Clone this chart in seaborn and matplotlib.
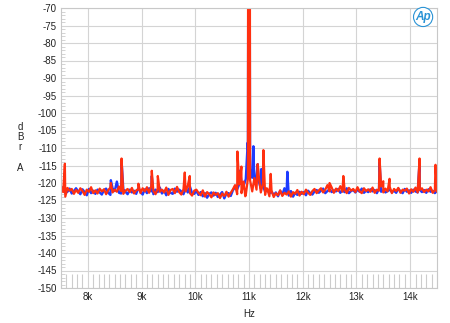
import numpy as np
import pandas as pd
import matplotlib
matplotlib.use("Agg")
import matplotlib.pyplot as plt
from matplotlib.ticker import MultipleLocator
import seaborn as sns

# ---------------- data ----------------
freq_start, freq_stop, freq_step = 7500, 14500, 40
grid_freqs = np.arange(freq_start, freq_stop + 1, freq_step)

red_floor = [
    -121.0, -122.6, -123.9, -121.4, -122.2, -121.7, -123.1, -122.0,
    -122.8, -121.5, -122.3, -123.4, -121.9, -122.5, -121.2, -122.9,
    -122.1, -123.0, -121.6, -122.4, -121.8, -123.2, -122.0, -121.3,
    -122.7, -121.9, -122.5, -121.0, -122.3, -123.1, -122.2, -121.7,
    -122.6, -121.4, -123.0, -122.1, -121.8, -122.9, -121.5, -122.4,
    -121.2, -122.8, -120.9, -122.3, -123.2, -121.6, -122.5, -121.9,
    -122.7, -121.3, -123.4, -122.0, -121.7, -122.9, -121.1, -122.6,
    -123.3, -121.8, -122.4, -120.8, -122.9, -123.6, -122.2, -121.9,
    -122.8, -123.5, -122.1, -123.9, -122.6, -123.2, -124.1, -122.7,
    -123.4, -122.9, -124.3, -123.0, -123.7, -122.5, -123.9, -122.8,
    -121.8, -120.6, -123.2, -120.4, -122.9, -119.6, -123.5, -118.7,
    -119.2, -122.4, -118.6, -121.9, -117.8, -122.7, -120.1, -123.4,
    -121.6, -123.8, -122.2, -124.0, -122.9, -123.5, -122.1, -123.7,
    -122.8, -123.3, -122.4, -123.9, -122.6, -123.1, -122.0, -123.6,
    -122.5, -123.2, -121.9, -122.8, -123.4, -122.3, -121.7, -122.9,
    -122.1, -121.5, -122.7, -121.9, -120.6, -122.4, -121.3, -122.8,
    -121.6, -122.3, -120.9, -122.5, -121.8, -122.9, -121.4, -122.2,
    -121.7, -122.6, -121.2, -122.4, -122.9, -121.5, -122.3, -121.8,
    -122.5, -121.3, -122.8, -121.9, -122.2, -121.0, -122.7, -121.6,
    -122.4, -121.1, -122.9, -121.7, -122.3, -121.4, -122.8, -121.9,
    -122.2, -121.6, -123.0, -121.8, -122.5, -121.3, -122.7, -122.0,
    -121.5, -122.6, -121.9, -122.4, -121.2, -122.8, -122.1, -122.5,
]

blue_floor = [
    -121.8, -121.2, -122.9, -122.5, -121.6, -123.0, -122.3, -121.5,
    -122.4, -123.2, -121.8, -122.6, -123.5, -121.7, -122.9, -122.2,
    -123.1, -121.9, -122.7, -123.3, -122.0, -121.6, -122.8, -123.4,
    -121.5, -122.3, -119.6, -122.8, -123.0, -121.8, -122.5, -123.2,
    -121.9, -122.7, -122.2, -123.1, -121.4, -122.5, -123.3, -121.8,
    -122.9, -121.5, -122.4, -123.2, -121.9, -122.6, -121.3, -123.0,
    -122.2, -123.5, -121.7, -122.8, -123.1, -121.6, -122.5, -121.9,
    -122.4, -123.2, -121.5, -122.7, -121.0, -122.9, -123.1, -122.3,
    -123.4, -122.6, -123.8, -122.9, -124.2, -123.1, -122.7, -123.6,
    -122.8, -124.0, -123.3, -122.6, -124.4, -123.0, -122.9, -123.7,
    -122.1, -121.2, -121.8, -120.3, -119.5, -120.8, -118.9, -110.5,
    -116.0, -118.5, -120.2, -117.9, -119.4, -121.6, -120.8, -122.5,
    -121.9, -123.0, -122.4, -123.5, -122.7, -123.8, -122.2, -123.4,
    -121.5, -122.9, -123.6, -122.3, -123.9, -122.8, -123.4, -122.5,
    -123.1, -122.6, -123.5, -122.2, -122.9, -123.3, -122.4, -122.0,
    -122.8, -122.2, -121.6, -122.9, -122.3, -121.8, -122.6, -122.1,
    -122.4, -121.7, -122.8, -122.0, -122.6, -121.5, -122.9, -122.3,
    -122.0, -122.7, -121.9, -122.5, -121.6, -122.8, -122.2, -122.6,
    -121.8, -122.4, -122.0, -122.9, -121.7, -122.5, -122.1, -122.7,
    -122.3, -121.9, -122.6, -122.2, -122.8, -121.6, -122.4, -122.9,
    -121.7, -122.5, -122.1, -122.8, -121.9, -122.4, -122.7, -122.0,
    -122.6, -122.0, -122.8, -121.8, -122.5, -122.2, -122.9, -122.3,
]

red_spur_freqs = [7572, 8428, 8627, 8940, 9190, 9302, 9804, 9897, 10784, 10859,
                  10930, 10984, 11000, 11016, 11162, 11268, 11320, 11404,
                  12500, 12756, 13431, 13500, 13617, 14175, 14472]
red_spur_levels = [-114.5, -120.0, -113.0, -120.2, -116.5, -118.0, -117.0, -118.0, -111.0, -115.3,
                   -123.8, -40.0, 0.0, -40.0, -114.6, -110.6, -121.5, -117.4,
                   -120.0, -118.0, -113.0, -119.5, -118.8, -113.0, -114.8]

blue_spur_freqs = [8428, 8627, 9190, 10830, 10976, 10990, 11000, 11010, 11082,
                   11162, 11230, 11714, 13431, 14175]
blue_spur_levels = [-119.2, -113.5, -118.0, -116.5, -108.5, -30.0, 0.0, -30.0, -109.5,
                    -114.6, -116.0, -116.8, -114.0, -114.0]

x_ticks = [8000, 9000, 10000, 11000, 12000, 13000, 14000]
x_tick_labels = ["8k", "9k", "10k", "11k", "12k", "13k", "14k"]
y_ticks = list(range(-150, -69, 5))


def build(floor, spur_f, spur_l, name):
    f = np.concatenate([grid_freqs, spur_f])
    v = np.concatenate([floor, spur_l])
    d = pd.DataFrame({"Hz": f, "dBrA": v, "ch": name})
    return d.sort_values("Hz")


df_blue = build(blue_floor, blue_spur_freqs, blue_spur_levels, "blue")
df_red = build(red_floor, red_spur_freqs, red_spur_levels, "red")

# ---------------- plot ----------------
sns.set_theme(style="white")
plt.rcParams["font.family"] = ["Liberation Sans", "DejaVu Sans"]

fig = plt.figure(figsize=(4.5, 3.23), dpi=100)
ax = fig.add_axes([61 / 450, 1 - 288 / 323, 376 / 450, 280 / 323])

sns.lineplot(data=df_blue, x="Hz", y="dBrA", color="#1d3cff", lw=1.7,
             estimator=None, sort=False, ax=ax)
sns.lineplot(data=df_red, x="Hz", y="dBrA", color="#ff3010", lw=1.6,
             estimator=None, sort=False, ax=ax)

ax.set_xlim(freq_start, freq_stop)
ax.set_ylim(-150, -70)
ax.set_xticks(x_ticks)
ax.set_xticklabels(x_tick_labels)
ax.set_yticks(y_ticks)
ax.set_yticklabels([str(t) for t in y_ticks])
ax.xaxis.set_minor_locator(MultipleLocator(100))
ax.yaxis.set_minor_locator(MultipleLocator(1))

ax.grid(True, which="major", color="#d4d4d4", lw=0.8)
ax.set_axisbelow(True)
for s in ax.spines.values():
    s.set_color("#c8c8c8")
    s.set_linewidth(0.8)

ax.tick_params(axis="both", which="major", length=0, labelsize=7,
               labelcolor="#222222", pad=3)
ax.tick_params(axis="x", which="minor", direction="in", length=10,
               color="#cccccc", width=0.8, bottom=True, top=False)
ax.tick_params(axis="y", which="minor", direction="in", length=3,
               color="#cccccc", width=0.6, left=True, right=False)

ax.set_xlabel("Hz", fontsize=7, color="#222222", labelpad=5)
ax.set_ylabel("")

for ch, yy in zip(["d", "B", "r", "A"], [127, 137, 147, 168]):
    fig.text(20 / 450, 1 - yy / 323, ch, fontsize=7, color="#222222",
             ha="center", va="center")

ax.text(0.963, 0.968, "Ap", transform=ax.transAxes, fontsize=8.5,
        fontweight="bold", fontstyle="italic", color="#2a93d5",
        ha="center", va="center",
        bbox=dict(boxstyle="circle,pad=0.15", fc="white", ec="#2a93d5", lw=0.8))

fig.savefig("out.png", dpi=100)
